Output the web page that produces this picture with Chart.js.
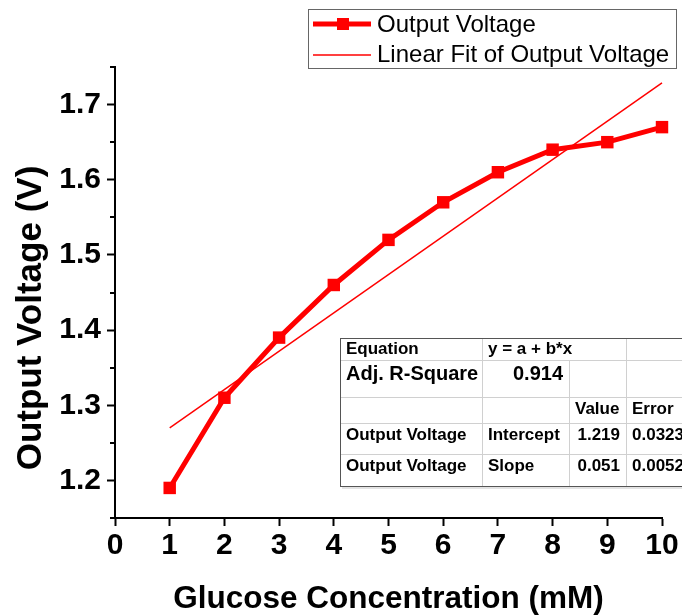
<!DOCTYPE html>
<html>
<head>
<meta charset="utf-8">
<script src="https://cdn.jsdelivr.net/npm/chart.js@4/dist/chart.umd.min.js"></script>
<style>
  html, body { margin: 0; padding: 0; background: #fff; }
</style>
</head>
<body>
<canvas id="voltageChart" width="682" height="615"></canvas>
<script>
// data
const glucose = [1, 2, 3, 4, 5, 6, 7, 8, 9, 10];
const outputVoltage = [1.19, 1.31, 1.39, 1.46, 1.52, 1.57, 1.61, 1.64, 1.65, 1.67];
const fitX = [1, 10];
const fitY = [1.27, 1.729];
const yMajorTicks = [1.2, 1.3, 1.4, 1.5, 1.6, 1.7];
const yMinorTicks = [1.15, 1.25, 1.35, 1.45, 1.55, 1.65, 1.75];
const legendLabels = ['Output Voltage', 'Linear Fit of Output Voltage'];
const yTitle = 'Output Voltage (V)';

// fit result table (Origin style)
const tableRows = [
    ['Equation', 'y = a + b*x', '', ''],
    ['Adj. R-Square', '0.914', '', ''],
    ['', '', 'Value', 'Error'],
    ['Output Voltage', 'Intercept', '1.219', '0.0323'],
    ['Output Voltage', 'Slope', '0.051', '0.0052']
];

const RED = '#ff0000';
const FONT = '"Liberation Sans", Arial, sans-serif';

const extrasPlugin = {
    id: 'extras',
    afterDraw(chart) {
        const ctx = chart.ctx;
        const y = chart.scales.y;
        const x = chart.scales.x;

        // minor ticks on y axis
        ctx.save();
        ctx.strokeStyle = '#000';
        ctx.lineWidth = 2;
        yMinorTicks.forEach(v => {
            const py = Math.round(y.getPixelForValue(v));
            ctx.beginPath();
            ctx.moveTo(x.left - 5, py);
            ctx.lineTo(x.left, py);
            ctx.stroke();
        });
        ctx.restore();

        // y axis title, a bit bigger and lower than the chart area centre
        ctx.save();
        ctx.translate(31, 318);
        ctx.rotate(-Math.PI / 2);
        ctx.font = 'bold 35px ' + FONT;
        ctx.fillStyle = '#000';
        ctx.textAlign = 'center';
        ctx.textBaseline = 'middle';
        ctx.fillText(yTitle, 0, 0);
        ctx.restore();

        // legend box
        ctx.save();
        ctx.strokeStyle = '#666';
        ctx.lineWidth = 1;
        ctx.strokeRect(308.5, 9.5, 368, 59);
        ctx.strokeStyle = RED;
        ctx.fillStyle = RED;
        ctx.lineWidth = 5;
        ctx.beginPath();
        ctx.moveTo(313, 24);
        ctx.lineTo(371, 24);
        ctx.stroke();
        ctx.fillRect(337, 18, 12, 12);
        ctx.lineWidth = 1.5;
        ctx.beginPath();
        ctx.moveTo(313, 55);
        ctx.lineTo(371, 55);
        ctx.stroke();
        ctx.fillStyle = '#000';
        ctx.font = '24px ' + FONT;
        ctx.textBaseline = 'middle';
        ctx.fillText(legendLabels[0], 377, 25);
        ctx.fillText(legendLabels[1], 377, 55);
        ctx.restore();

        // fit table
        const colX = [340, 482, 569, 626, 720];
        const rowY = [338, 360, 397, 423, 454, 486];
        ctx.save();
        ctx.fillStyle = '#fff';
        ctx.fillRect(colX[0], rowY[0], colX[4] - colX[0], rowY[5] - rowY[0]);
        ctx.strokeStyle = '#d0d0d0';
        ctx.lineWidth = 1;
        for (let i = 1; i < 5; i++) {
            ctx.beginPath();
            ctx.moveTo(colX[0], rowY[i] + 0.5);
            ctx.lineTo(colX[4], rowY[i] + 0.5);
            ctx.stroke();
        }
        [[colX[1], rowY[0]], [colX[2], rowY[1]], [colX[3], rowY[0]]].forEach(([cx, top]) => {
            ctx.beginPath();
            ctx.moveTo(cx + 0.5, top);
            ctx.lineTo(cx + 0.5, rowY[5]);
            ctx.stroke();
        });
        ctx.strokeStyle = '#e3e3e3';
        ctx.lineWidth = 2;
        ctx.beginPath();
        ctx.moveTo(colX[0] + 2, rowY[5] + 2);
        ctx.lineTo(colX[4], rowY[5] + 2);
        ctx.stroke();
        ctx.strokeStyle = '#555';
        ctx.lineWidth = 1;
        ctx.strokeRect(colX[0] + 0.5, rowY[0] + 0.5, colX[4], rowY[5] - rowY[0]);

        ctx.fillStyle = '#000';
        ctx.textBaseline = 'middle';
        const textY = [349, 374, 409, 435, 466];
        tableRows.forEach((row, r) => {
            const big = r === 1;
            ctx.font = 'bold ' + (big ? 20 : 17) + 'px ' + FONT;
            ctx.textAlign = 'left';
            ctx.fillText(row[0], 346, textY[r]);
            if (r === 1) {
                ctx.textAlign = 'right';
                ctx.fillText(row[1], 563, textY[r]);
            } else {
                ctx.fillText(row[1], 488, textY[r]);
            }
            if (r === 2) {
                ctx.textAlign = 'left';
                ctx.fillText(row[2], 575, textY[r]);
            } else {
                ctx.textAlign = 'right';
                ctx.fillText(row[2], 620, textY[r]);
            }
            ctx.textAlign = 'left';
            ctx.fillText(row[3], 632, textY[r]);
        });
        ctx.restore();
    }
};

const chart = new Chart(document.getElementById('voltageChart'), {
    type: 'line',
    data: {
        datasets: [{
            label: legendLabels[0],
            data: glucose.map((g, i) => ({ x: g, y: outputVoltage[i] })),
            borderColor: RED,
            backgroundColor: RED,
            borderWidth: 5,
            pointStyle: 'rect',
            pointRadius: 8.8,
            pointBorderWidth: 0,
            tension: 0,
            clip: false
        }, {
            label: legendLabels[1],
            data: fitX.map((g, i) => ({ x: g, y: fitY[i] })),
            borderColor: RED,
            borderWidth: 1.5,
            pointRadius: 0,
            tension: 0,
            clip: false
        }]
    },
    options: {
        responsive: false,
        animation: false,
        layout: { padding: { top: 67, right: 20, left: 0, bottom: 0 } },
        plugins: {
            legend: { display: false },
            tooltip: { enabled: false }
        },
        scales: {
            x: {
                type: 'linear',
                min: 0,
                max: 10,
                afterFit: s => { s.height = 97; },
                border: { color: '#000', width: 2 },
                grid: { drawOnChartArea: false, drawTicks: true, tickLength: 8, tickColor: '#000', tickWidth: 2 },
                ticks: {
                    stepSize: 1,
                    color: '#000',
                    padding: 2,
                    maxRotation: 0,
                    font: { family: FONT, size: 30, weight: 'bold' }
                },
                title: {
                    display: true,
                    text: 'Glucose Concentration (mM)',
                    color: '#000',
                    padding: { top: 0, bottom: -3 },
                    font: { family: FONT, size: 31.5, weight: 'bold', lineHeight: 1.2 }
                }
            },
            y: {
                min: 1.15,
                max: 1.75,
                afterFit: s => { s.width = 115; },
                afterBuildTicks: s => { s.ticks = yMajorTicks.map(v => ({ value: v })); },
                border: { color: '#000', width: 2 },
                grid: { drawOnChartArea: false, drawTicks: true, tickLength: 8, tickColor: '#000', tickWidth: 2 },
                ticks: {
                    color: '#000',
                    padding: 6,
                    callback: v => v.toFixed(1),
                    font: { family: FONT, size: 30, weight: 'bold' }
                }
            }
        }
    },
    plugins: [extrasPlugin]
});
</script>
</body>
</html>
